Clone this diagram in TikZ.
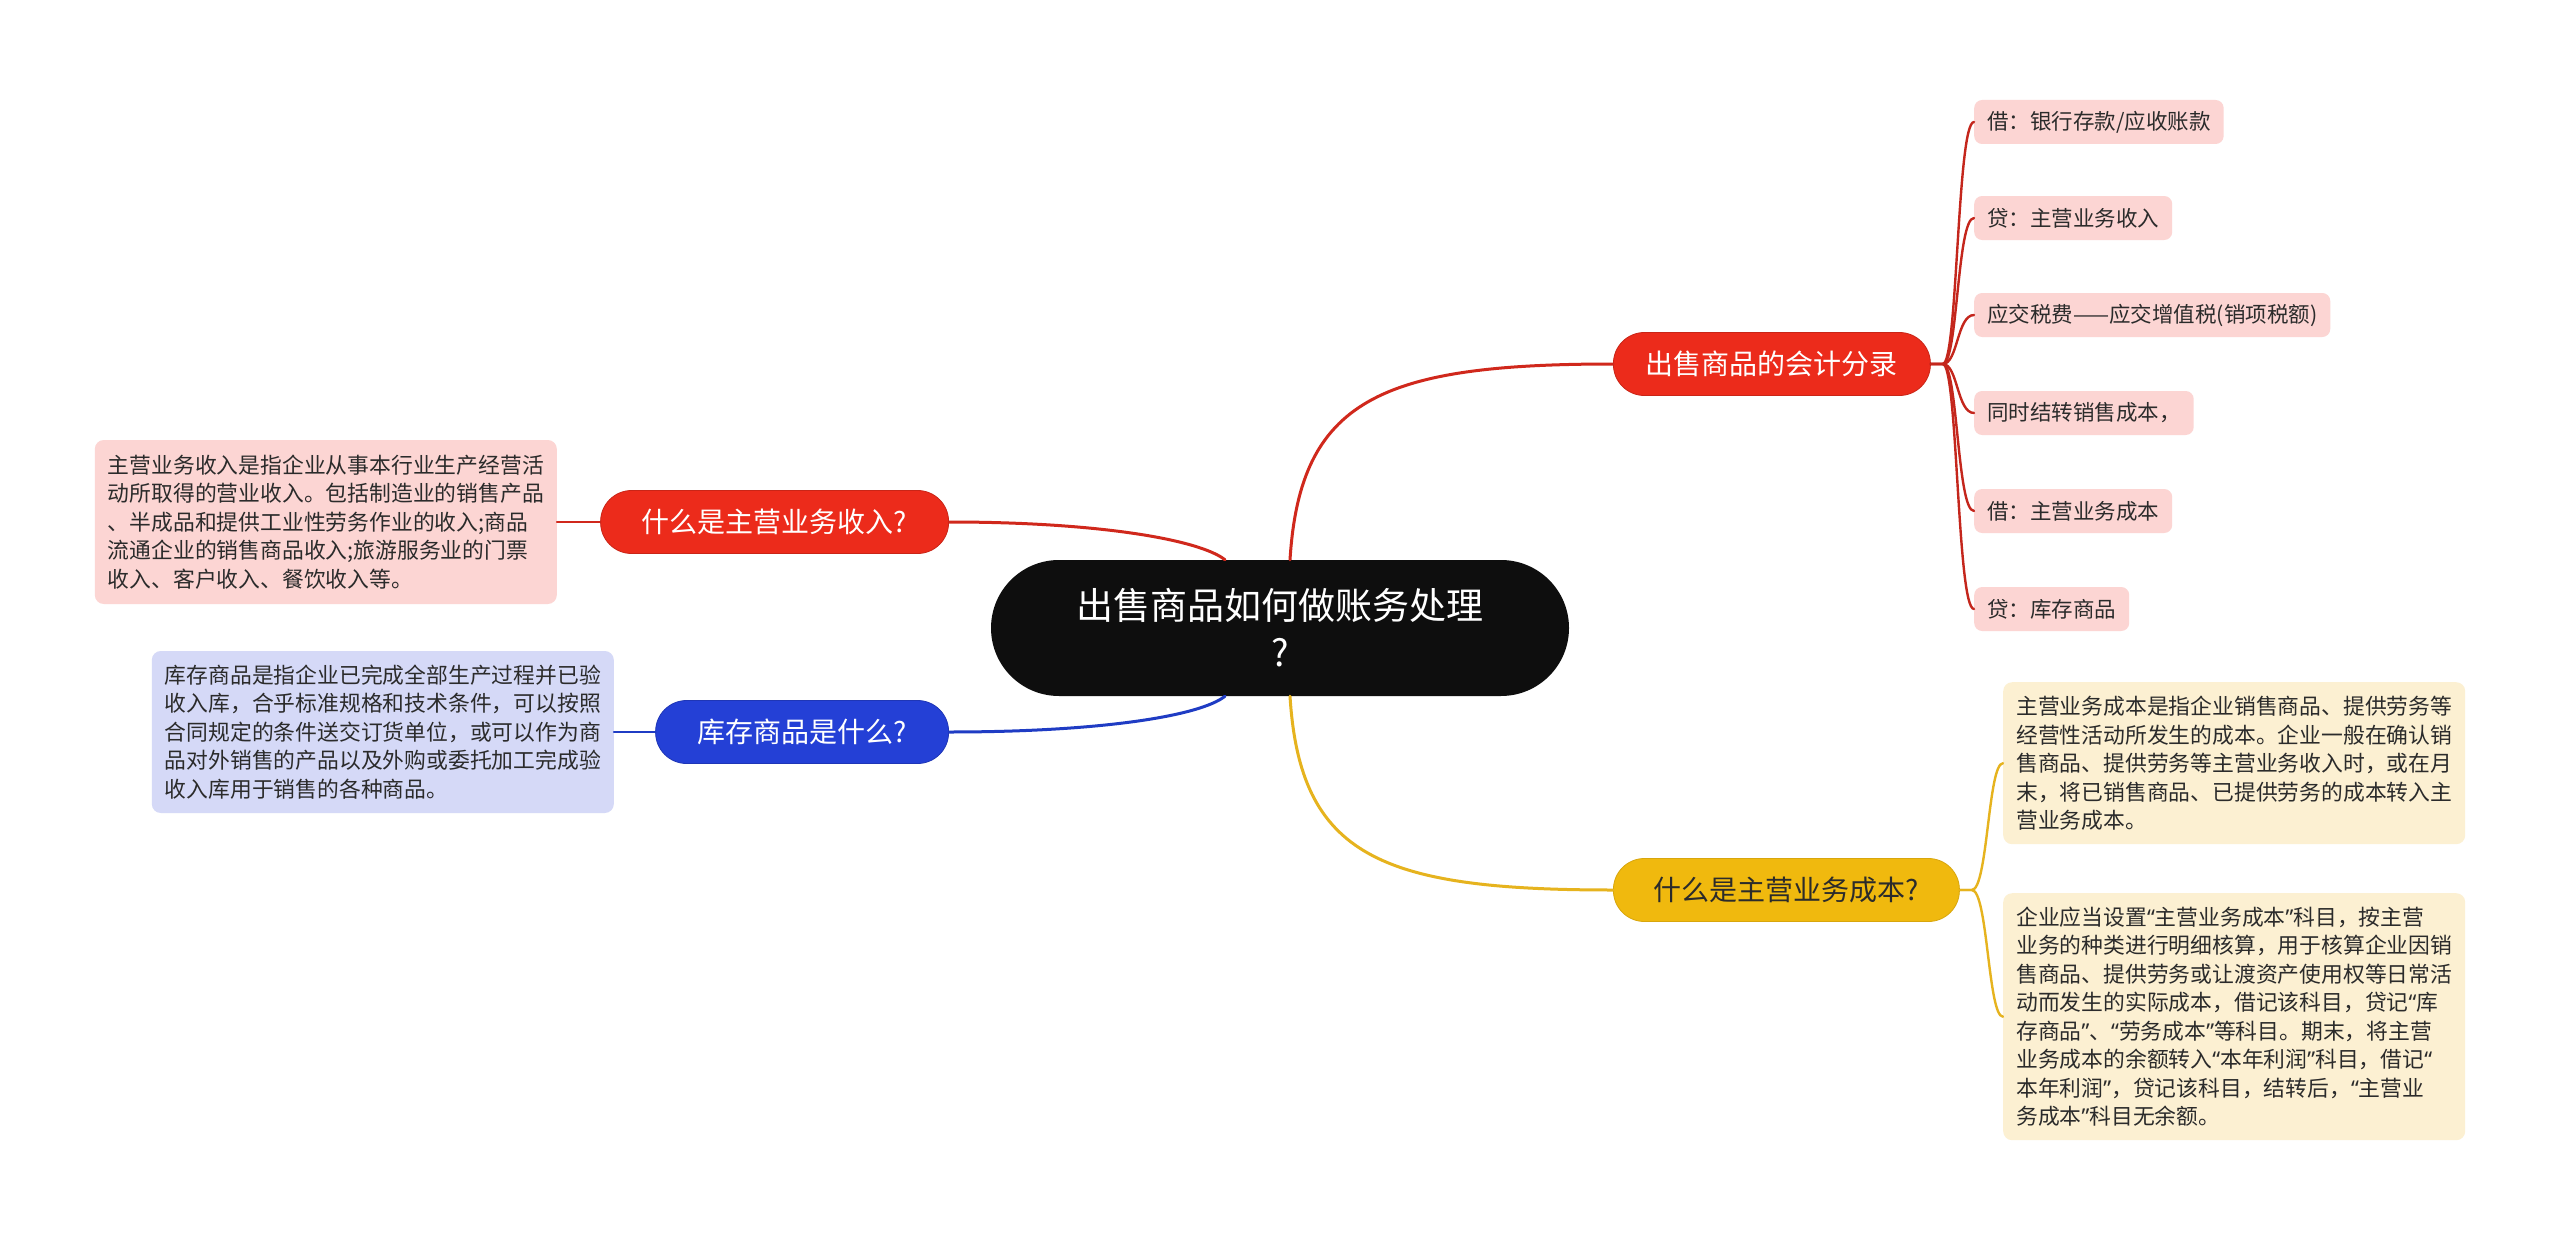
\documentclass[tikz,border=0pt]{standalone}
\usepackage{fontspec}
\setmainfont{Noto Sans CJK SC}
\newfontfamily\latinq{Noto Sans}
\newcommand{\qo}{{\latinq “}}
\newcommand{\qc}{{\latinq ”}}
\definecolor{mred}{HTML}{EC2B1B}
\definecolor{mredline}{HTML}{D0281C}
\definecolor{leafline}{HTML}{C4261C}
\definecolor{myel}{HTML}{F0B90E}
\definecolor{yelline}{HTML}{E6B31E}
\definecolor{mblue}{HTML}{2440D6}
\definecolor{blueline}{HTML}{1F3CC4}
\definecolor{rootblack}{HTML}{0E0E0E}
\definecolor{lpink}{HTML}{FCD5D3}
\definecolor{lblue}{HTML}{D5D9F7}
\definecolor{lyel}{HTML}{FCF0D2}
\definecolor{textdark}{HTML}{2B2B2B}
\tikzset{
  rootnode/.style={rounded corners=68pt, minimum width=578pt, minimum height=136pt,
    fill=rootblack, text=white, align=center, inner sep=0pt,
    font=\fontsize{37}{47}\selectfont},
  mainnode/.style={rounded corners=31pt, minimum height=63pt, inner sep=0pt,
    align=center, font=\fontsize{28}{34}\selectfont},
  leafsmall/.style={rounded corners=8pt, fill=lpink, minimum height=44pt,
    inner xsep=13pt, inner ysep=0pt, text=textdark, anchor=west,
    font=\fontsize{21.5}{26}\selectfont},
  leafbig/.style={rounded corners=9pt, inner xsep=12pt, inner ysep=0pt,
    align=left, text=textdark, minimum width=462pt,
    font=\fontsize{21.8}{28.5}\selectfont},
  rootlink/.style={line width=3pt, line cap=round},
  leaflink/.style={line width=2.4pt, line cap=round}
}
\begin{document}
\begin{tikzpicture}[x=1pt,y=-1pt]
\useasboundingbox[fill=white] (0,0) rectangle (2560,1236);

% root and main branches
\node[rootnode] (root) at (1280,628) {出售商品如何做账务处理\\?};
\node[mainnode, fill=mred, draw=mred!85!black, line width=0.8pt, text=white, minimum width=317pt, anchor=west] (n1) at (1613,364) {出售商品的会计分录};
\node[mainnode, fill=myel, draw=myel!90!black, line width=0.8pt, text=textdark, minimum width=346pt, anchor=west] (n2) at (1613,890) {什么是主营业务成本?};
\node[mainnode, fill=mred, draw=mred!85!black, line width=0.8pt, text=white, minimum width=348pt, anchor=east] (n3) at (949,522) {什么是主营业务收入?};
\node[mainnode, fill=mblue, draw=mblue!85!black, line width=0.8pt, text=white, minimum width=293pt, anchor=east] (n4) at (949,732) {库存商品是什么?};

% right red leaves
\node[leafsmall] (a1) at (1974,122) {借：银行存款/应收账款};
\node[leafsmall] (a2) at (1974,218) {贷：主营业务收入};
\node[leafsmall] (a3) at (1974,315) {应交税费——应交增值税(销项税额)};
\node[leafsmall] (a4) at (1974,413) {同时结转销售成本，};
\node[leafsmall] (a5) at (1974,511) {借：主营业务成本};
\node[leafsmall] (a6) at (1974,609) {贷：库存商品};

% yellow leaves
\node[leafbig, fill=lyel, minimum height=162pt, anchor=north west] (b1) at (2003,682) {主营业务成本是指企业销售商品、提供劳务等\\经营性活动所发生的成本。企业一般在确认销\\售商品、提供劳务等主营业务收入时，或在月\\末，将已销售商品、已提供劳务的成本转入主\\营业务成本。};
\node[leafbig, fill=lyel, minimum height=247pt, anchor=north west] (b2) at (2003,893) {企业应当设置\qo 主营业务成本\qc 科目，按主营\\业务的种类进行明细核算，用于核算企业因销\\售商品、提供劳务或让渡资产使用权等日常活\\动而发生的实际成本，借记该科目，贷记\qo 库\\存商品\qc 、\qo 劳务成本\qc 等科目。期末，将主营\\业务成本的余额转入\qo 本年利润\qc 科目，借记\qo\\本年利润\qc ，贷记该科目，结转后，\qo 主营业\\务成本\qc 科目无余额。};

% left leaves
\node[leafbig, fill=lpink, minimum height=164pt, anchor=east] (c1) at (557,522) {主营业务收入是指企业从事本行业生产经营活\\动所取得的营业收入。包括制造业的销售产品\\、半成品和提供工业性劳务作业的收入;商品\\流通企业的销售商品收入;旅游服务业的门票\\收入、客户收入、餐饮收入等。};
\node[leafbig, fill=lblue, minimum height=162pt, anchor=east] (d1) at (614,732) {库存商品是指企业已完成全部生产过程并已验\\收入库，合乎标准规格和技术条件，可以按照\\合同规定的条件送交订货单位，或可以作为商\\品对外销售的产品以及外购或委托加工完成验\\收入库用于销售的各种商品。};

% root connectors
\draw[rootlink, mredline] ([xshift=10pt]root.north) .. controls +(10,-160) and +(-233,0) .. (n1.west);
\draw[rootlink, yelline] ([xshift=10pt]root.south) .. controls +(10,160) and +(-233,0) .. (n2.west);
\draw[rootlink, mredline] ([xshift=-55pt]root.north) .. controls +(-25,-20) and +(150,0) .. (n3.east);
\draw[rootlink, blueline] ([xshift=-55pt]root.south) .. controls +(-25,20) and +(150,0) .. (n4.east);

% leaf connectors
\foreach \l in {a1,a2,a3,a4,a5,a6}{
  \draw[leaflink, leafline] (n1.east) -- ++(12,0) .. controls +(15,0) and +(-17,0) .. (\l.west);
}
\foreach \l in {b1,b2}{
  \draw[leaflink, yelline] (n2.east) -- ++(12,0) .. controls +(16,0) and +(-15,0) .. (\l.west);
}
\draw[leaflink, mredline] (n3.west) -- (c1.east);
\draw[leaflink, blueline] (n4.west) -- (d1.east);
\end{tikzpicture}
\end{document}
